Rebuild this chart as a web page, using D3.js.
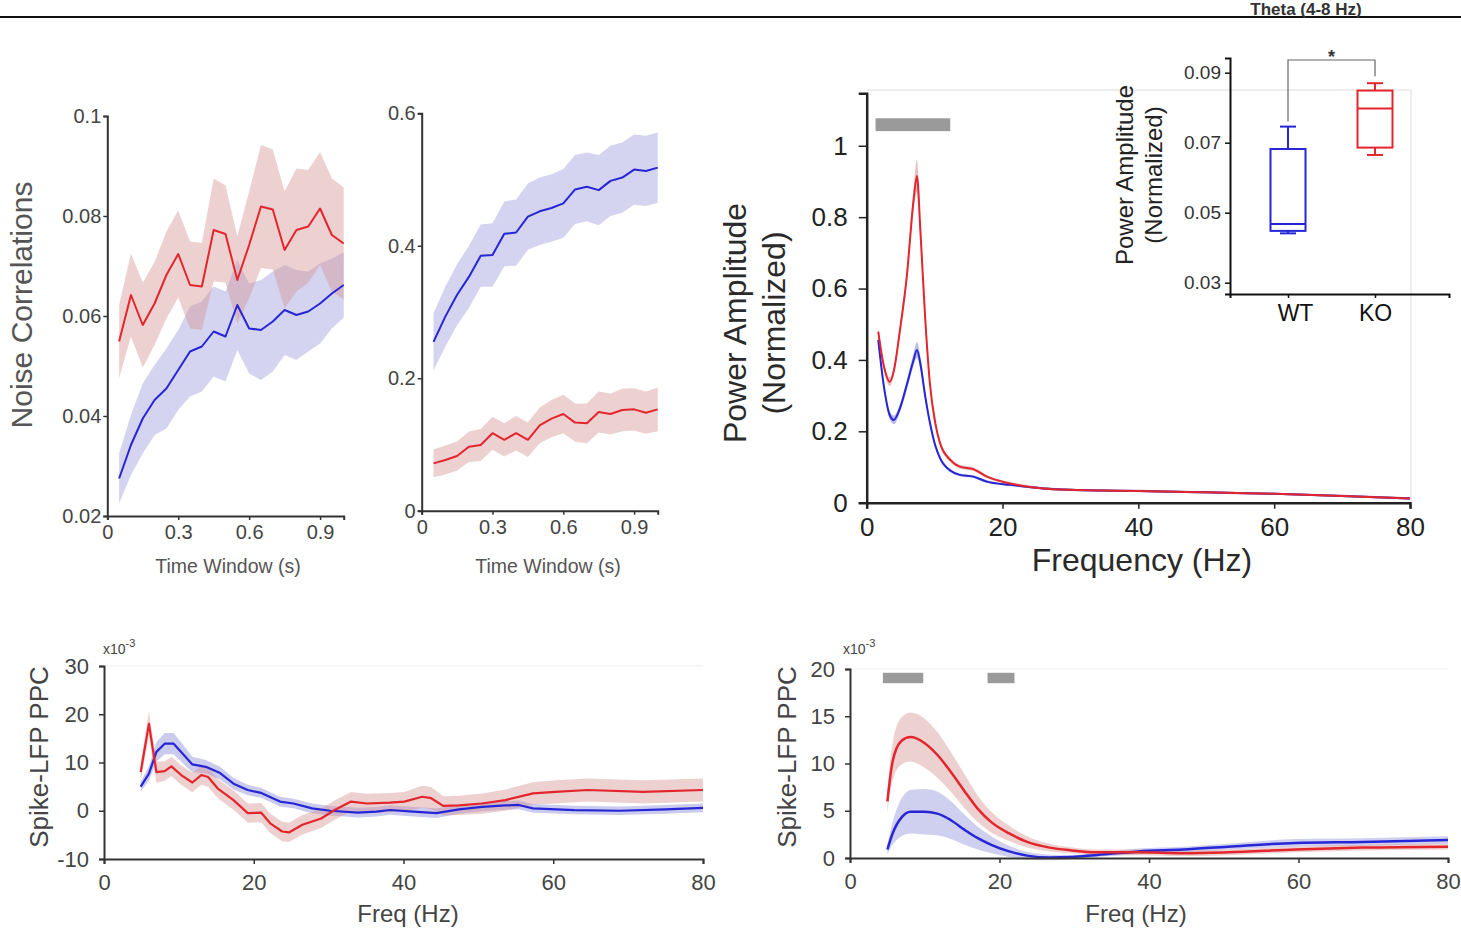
<!DOCTYPE html>
<html><head><meta charset="utf-8">
<script src="https://cdn.jsdelivr.net/npm/d3@7"></script>
<style>body{margin:0;background:#fff} svg{display:block}</style>
</head><body><svg id="c" width="1461" height="937"></svg>
<script>
// ---------- DATA ----------
const ncTime = [0.05,0.10,0.15,0.20,0.25,0.30,0.35,0.40,0.45,0.50,0.55,0.60,0.65,0.70,0.75,0.80,0.85,0.90,0.95,1.00];
const ncKO = [0.0549,0.0642,0.0582,0.0625,0.0682,0.0724,0.0662,0.0659,0.0772,0.0764,0.0672,0.0742,0.0819,0.0813,0.0732,0.0772,0.0779,0.0815,0.0762,0.0745];
const ncKOsem = [0.0073,0.0083,0.0085,0.0083,0.0087,0.0087,0.0087,0.0087,0.0103,0.0097,0.0087,0.0107,0.0123,0.0120,0.0117,0.0123,0.0113,0.0113,0.0113,0.0112];
const ncWT = [0.0275,0.0342,0.0395,0.0432,0.0455,0.0492,0.0529,0.0539,0.0569,0.0559,0.0622,0.0575,0.0572,0.0589,0.0612,0.0602,0.0609,0.0625,0.0645,0.0662];
const ncWTsem = [0.005,0.006,0.007,0.007,0.008,0.008,0.009,0.009,0.009,0.009,0.009,0.009,0.010,0.010,0.009,0.009,0.008,0.008,0.007,0.0065];
const ncYTicks = [0.02,0.04,0.06,0.08,0.1];
const ncYLabels = ["0.02","0.04","0.06","0.08","0.1"];
const timeTicks = [0,0.3,0.6,0.9];
const timeLabels = ["0","0.3","0.6","0.9"];

const scWT = [0.255,0.293,0.326,0.353,0.385,0.386,0.418,0.420,0.444,0.452,0.457,0.464,0.485,0.489,0.484,0.498,0.503,0.515,0.513,0.518];
const scWTsem = [0.043,0.045,0.046,0.047,0.047,0.048,0.049,0.050,0.050,0.051,0.051,0.052,0.052,0.052,0.053,0.053,0.053,0.053,0.053,0.053];
const scKO = [0.0715,0.0765,0.0826,0.0966,0.0992,0.117,0.107,0.117,0.107,0.129,0.139,0.146,0.133,0.132,0.149,0.146,0.152,0.153,0.148,0.153];
const scKOsem = [0.021,0.022,0.022,0.023,0.024,0.025,0.025,0.026,0.026,0.027,0.028,0.029,0.029,0.030,0.031,0.031,0.032,0.032,0.032,0.033];
const scYTicks = [0,0.2,0.4,0.6];
const scYLabels = ["0","0.2","0.4","0.6"];

const psdFreq = [1.7,2.5,3.4,4.0,4.9,5.9,6.9,7.4,7.9,8.6,9.3,10.1,10.8,12.3,13.7,15.7,17.7,21.1,26,30,35,40,50,60,70,80];
const psdKO = [0.479,0.385,0.339,0.37,0.484,0.633,0.848,0.915,0.764,0.521,0.335,0.223,0.167,0.120,0.101,0.094,0.073,0.054,0.040,0.036,0.034,0.033,0.029,0.025,0.019,0.012];
const psdKOsem = [0.012,0.012,0.012,0.013,0.015,0.02,0.03,0.045,0.03,0.02,0.015,0.01,0.008,0.006,0.005,0.005,0.004,0.004,0.003,0.003,0.003,0.003,0.003,0.003,0.003,0.003];
const psdWT = [0.456,0.33,0.245,0.232,0.265,0.33,0.40,0.428,0.39,0.30,0.225,0.16,0.125,0.090,0.078,0.073,0.059,0.050,0.040,0.036,0.034,0.033,0.029,0.025,0.019,0.012];
const psdWTsem = [0.012,0.012,0.012,0.012,0.012,0.014,0.018,0.022,0.018,0.014,0.01,0.008,0.006,0.005,0.004,0.004,0.004,0.003,0.003,0.003,0.003,0.003,0.003,0.003,0.003,0.003];
const psdYTicks = [0,0.2,0.4,0.6,0.8,1];
const psdYLabels = ["0","0.2","0.4","0.6","0.8","1"];
const freqTicks = [0,20,40,60,80];
const psdSigBands = [[1.3,12.3]];
const psdSigLevel = [1.041,1.077];

const boxGroups = ["WT","KO"];
const boxMin = [0.0441,0.0665];
const boxQ1 = [0.0448,0.0686];
const boxMedian = [0.0468,0.0798];
const boxQ3 = [0.0682,0.0849];
const boxMax = [0.0746,0.0870];
const boxYTicks = [0.03,0.05,0.07,0.09];
const boxYLabels = ["0.03","0.05","0.07","0.09"];

const ppc1KOFreq = [4.9,6.0,7.0,8.1,9.0,10.3,11.8,13.0,13.9,15.2,17.3,19.2,21.0,22.2,23.8,24.7,26.5,29.0,30.8,33.0,35.1,38.2,40.1,42.5,43.7,45.3,47.4,50.5,53.6,57.3,60.3,64.6,72.0,80.0];
const ppc1KO = [8.0,18.0,8.0,8.2,9.2,7.4,5.85,7.4,7.0,4.6,2.2,-0.5,-0.4,-2.6,-4.3,-4.5,-2.9,-1.6,0.15,1.9,1.5,1.7,1.9,2.9,2.6,1.0,1.1,1.5,2.2,3.6,3.9,4.3,3.9,4.3];
const ppc1KOsem = [2.0,2.5,2.2,2.0,2.0,2.0,2.0,2.0,2.0,2.0,2.0,2.0,2.0,2.0,2.0,2.0,2.0,2.0,2.0,2.0,2.0,2.0,2.0,2.3,2.3,2.0,2.0,2.1,2.2,2.3,2.4,2.4,2.4,2.4];
const ppc1WTFreq = [4.9,6.0,7.0,8.1,9.3,10.3,11.8,13.6,15.5,17.3,19.2,21.0,23.5,25.3,27.8,30.2,33.9,36.4,38.2,41.3,44.4,47.4,50.5,53.6,55.4,57.3,62.8,68.9,75.0,80.0];
const ppc1WT = [5.0,7.7,12.2,13.9,13.9,12.2,9.6,9.1,7.8,5.6,4.3,3.7,1.9,1.5,0.5,0.0,-0.4,-0.2,0.15,-0.2,-0.5,0.3,0.8,1.1,1.2,0.5,0.15,0.0,0.3,0.6];
const ppc1WTsem = [1.0,1.5,2.0,2.2,2.2,2.0,1.6,1.4,1.3,1.2,1.1,1.0,1.0,1.0,1.0,1.0,1.0,1.0,1.0,1.0,1.0,0.9,0.9,0.9,0.9,0.9,0.9,0.9,0.9,0.9];
const ppc1YTicks = [-10,0,10,20,30];
const ppc1YLabels = ["-10","0","10","20","30"];

const ppc2Freq = [5.0,5.7,6.9,8.1,9.9,11.7,13.5,15.3,17.1,18.9,21.3,23.7,26.7,29.7,32.7,38.6,44.6,50.6,59.6,68.6,80.0];
const ppc2KO = [6.0,10.2,12.4,12.8,12.2,10.9,9.1,7.1,5.2,3.8,2.6,1.7,1.1,0.8,0.6,0.6,0.5,0.6,0.9,1.1,1.2];
const ppc2KOsem = [1.2,2.0,2.5,2.6,2.6,2.4,2.1,1.8,1.4,1.1,0.8,0.6,0.4,0.3,0.3,0.3,0.3,0.3,0.3,0.3,0.3];
const ppc2WT = [0.9,2.6,4.3,4.9,4.9,4.7,4.0,3.0,2.1,1.4,0.7,0.25,0.05,0.1,0.3,0.7,0.9,1.2,1.6,1.7,1.9];
const ppc2WTsem = [0.5,1.2,2.0,2.3,2.4,2.3,2.0,1.6,1.2,0.9,0.6,0.4,0.3,0.2,0.2,0.3,0.3,0.3,0.4,0.4,0.4];
const ppc2YTicks = [0,5,10,15,20];
const ppc2SigBands = [[4.4,9.8],[18.4,22.0]];
const ppc2SigLevel = [18.5,19.6];

// ---------- DRAWING ----------
const FONT = "'Liberation Sans', Arial, Helvetica, sans-serif";
const RED = "#e3262d", BLUE = "#2626d6";
const REDBAND = "rgb(214,150,150)", BLUEBAND = "rgb(160,160,224)";
const svg = d3.select("#c");

function styleAxis(g, o) {
  g.select(".domain").attr("stroke", o.axisColor || "#333").attr("stroke-width", o.axisWidth || 2);
  g.selectAll(".tick line").attr("stroke", o.axisColor || "#333").attr("stroke-width", o.tickWidth || 1.5);
  g.selectAll(".tick text").attr("fill", o.textColor || "#444").attr("font-size", o.fontSize).attr("font-family", FONT);
}
function band(g, x, y, xs, ys, sems, fill, op, curve) {
  const data = xs.map((v, i) => ({x: v, y: ys[i], s: sems[i]}));
  g.append("path").datum(data)
    .attr("d", d3.area().x(d => x(d.x)).y0(d => y(d.y - d.s)).y1(d => y(d.y + d.s)).curve(curve))
    .attr("fill", fill).attr("opacity", op);
}
function line(g, x, y, xs, ys, color, lw, curve) {
  const data = xs.map((v, i) => ({x: v, y: ys[i]}));
  g.append("path").datum(data)
    .attr("d", d3.line().x(d => x(d.x)).y(d => y(d.y)).curve(curve))
    .attr("fill", "none").attr("stroke", color).attr("stroke-width", lw).attr("stroke-linejoin", "round");
}
function label(txt, x, y, size, color, rot, weight) {
  const t = svg.append("text").attr("font-family", FONT).attr("font-size", size).attr("fill", color)
    .attr("text-anchor", "middle").attr("dominant-baseline", "central").text(txt);
  if (weight) t.attr("font-weight", weight);
  t.attr("transform", `translate(${x},${y})` + (rot ? ` rotate(${rot})` : ""));
  return t;
}

// top rule and title
svg.append("line").attr("x1", 0).attr("x2", 1461).attr("y1", 17).attr("y2", 17).attr("stroke", "#111").attr("stroke-width", 2);
svg.append("text").attr("x", 1306).attr("y", 15).attr("text-anchor", "middle").attr("font-family", FONT)
  .attr("font-size", 17).attr("font-weight", "bold").attr("fill", "#333").text("Theta (4-8 Hz)");

// ---- Panel 1: Noise correlations ----
{
  const x = d3.scaleLinear().domain([0, 1]).range([107.3, 343.7]);
  const y = d3.scaleLinear().domain([0.02, 0.1]).range([516, 116]);
  const g = svg.append("g");
  band(g, x, y, ncTime, ncWT, ncWTsem, BLUEBAND, 0.45, d3.curveLinear);
  band(g, x, y, ncTime, ncKO, ncKOsem, REDBAND, 0.45, d3.curveLinear);
  line(g, x, y, ncTime, ncWT, BLUE, 2, d3.curveLinear);
  line(g, x, y, ncTime, ncKO, RED, 2, d3.curveLinear);
  const ax = svg.append("g").attr("transform", "translate(0,516)")
    .call(d3.axisBottom(x).tickValues(timeTicks).tickFormat((d, i) => timeLabels[i]).tickSizeOuter(0).tickSize(4).tickPadding(5));
  styleAxis(ax, {fontSize: 20, textColor: "#444"});
  const ay = svg.append("g").attr("transform", "translate(107.3,0)")
    .call(d3.axisLeft(y).tickValues(ncYTicks).tickFormat((d, i) => ncYLabels[i]).tickSizeOuter(0).tickSize(4).tickPadding(2));
  styleAxis(ay, {fontSize: 20, textColor: "#444"});
  label("Noise Correlations", 21, 305, 30, "#555", -90);
  label("Time Window (s)", 228, 566, 19.5, "#555");
}

// ---- Panel 2 ----
{
  const x = d3.scaleLinear().domain([0, 1]).range([421.7, 657.7]);
  const y = d3.scaleLinear().domain([0, 0.6]).range([510.7, 113.3]);
  const g = svg.append("g");
  band(g, x, y, ncTime, scWT, scWTsem, BLUEBAND, 0.45, d3.curveLinear);
  band(g, x, y, ncTime, scKO, scKOsem, REDBAND, 0.45, d3.curveLinear);
  line(g, x, y, ncTime, scWT, BLUE, 2, d3.curveLinear);
  line(g, x, y, ncTime, scKO, RED, 2, d3.curveLinear);
  const ax = svg.append("g").attr("transform", "translate(0,510.7)")
    .call(d3.axisBottom(x).tickValues(timeTicks).tickFormat((d, i) => timeLabels[i]).tickSizeOuter(0).tickSize(4).tickPadding(5));
  styleAxis(ax, {fontSize: 20, textColor: "#444"});
  const ay = svg.append("g").attr("transform", "translate(421.7,0)")
    .call(d3.axisLeft(y).tickValues(scYTicks).tickFormat((d, i) => scYLabels[i]).tickSizeOuter(0).tickSize(4).tickPadding(2));
  styleAxis(ay, {fontSize: 20, textColor: "#444"});
  label("Time Window (s)", 548, 566, 19.5, "#555");
}

// ---- Panel 3: Power spectrum ----
{
  const x = d3.scaleLinear().domain([0, 80]).range([866.7, 1410]);
  const y = d3.scaleLinear().domain([0, 1.147]).range([502.7, 93.3]);
  const g = svg.append("g");
  g.append("path").attr("d", `M${x(0)},90 H1411 V${y(0)}`).attr("fill", "none").attr("stroke", "#dcdcdc").attr("stroke-width", 1);
  g.selectAll("rect.sig").data(psdSigBands).enter().append("rect")
    .attr("x", d => x(d[0])).attr("width", d => x(d[1]) - x(d[0]))
    .attr("y", y(psdSigLevel[1])).attr("height", y(psdSigLevel[0]) - y(psdSigLevel[1])).attr("fill", "#9a9a9a");
  band(g, x, y, psdFreq, psdWT, psdWTsem, BLUEBAND, 0.7, d3.curveMonotoneX);
  band(g, x, y, psdFreq, psdKO, psdKOsem, REDBAND, 0.6, d3.curveMonotoneX);
  line(g, x, y, psdFreq, psdWT, BLUE, 2, d3.curveMonotoneX);
  line(g, x, y, psdFreq, psdKO, RED, 2, d3.curveMonotoneX);
  const ax = svg.append("g").attr("transform", `translate(0,${y(0)})`)
    .call(d3.axisBottom(x).tickValues(freqTicks).tickFormat(d => String(d)).tickSizeOuter(0).tickSize(6).tickPadding(9));
  styleAxis(ax, {fontSize: 26, textColor: "#222", axisColor: "#222", axisWidth: 2.5});
  const ay = svg.append("g").attr("transform", `translate(${x(0)},0)`)
    .call(d3.axisLeft(y).tickValues(psdYTicks).tickFormat((d, i) => psdYLabels[i]).tickSizeOuter(0).tickSize(8).tickPadding(11));
  styleAxis(ay, {fontSize: 26, textColor: "#222", axisColor: "#222", axisWidth: 2.5});
  label("Power Amplitude", 735, 323, 32, "#2a2a2a", -90);
  label("(Normalized)", 774, 323, 32, "#2a2a2a", -90);
  label("Frequency (Hz)", 1142, 560, 32, "#2a2a2a");
}

// ---- Inset: box plot ----
{
  const x = d3.scalePoint().domain(boxGroups).range([1230, 1449]).padding(0.7586).align(0.4394);
  const y = d3.scaleLinear().domain([0.02677, 0.0942]).range([294, 58]);
  const colors = [BLUE, RED];
  const g = svg.append("g");
  const bw = 35, cw = 16;
  boxGroups.forEach((grp, i) => {
    const cx = x(grp), c = colors[i];
    const bg = g.append("g").attr("stroke", c).attr("stroke-width", 2).attr("fill", "none");
    bg.append("line").attr("x1", cx).attr("x2", cx).attr("y1", y(boxMax[i])).attr("y2", y(boxQ3[i]));
    bg.append("line").attr("x1", cx).attr("x2", cx).attr("y1", y(boxQ1[i])).attr("y2", y(boxMin[i]));
    bg.append("line").attr("x1", cx - cw / 2).attr("x2", cx + cw / 2).attr("y1", y(boxMax[i])).attr("y2", y(boxMax[i]));
    bg.append("line").attr("x1", cx - cw / 2).attr("x2", cx + cw / 2).attr("y1", y(boxMin[i])).attr("y2", y(boxMin[i]));
    bg.append("rect").attr("x", cx - bw / 2).attr("width", bw).attr("y", y(boxQ3[i])).attr("height", y(boxQ1[i]) - y(boxQ3[i])).attr("fill", "#fff");
    bg.append("line").attr("x1", cx - bw / 2).attr("x2", cx + bw / 2).attr("y1", y(boxMedian[i])).attr("y2", y(boxMedian[i]));
  });
  const bx1 = x("WT"), bx2 = x("KO");
  g.append("path").attr("d", `M${bx1},${y(boxMax[0]) - 5} V60 H${bx2} V${y(boxMax[1]) - 7}`)
    .attr("fill", "none").attr("stroke", "#666").attr("stroke-width", 1.2);
  g.append("text").attr("x", (bx1 + bx2) / 2).attr("y", 63).attr("text-anchor", "middle")
    .attr("font-family", FONT).attr("font-size", 18).attr("font-weight", "bold").attr("fill", "#333").text("*");
  const ax = svg.append("g").attr("transform", "translate(0,294)")
    .call(d3.axisBottom(x).tickSizeOuter(0).tickSize(4).tickPadding(7));
  styleAxis(ax, {fontSize: 23, textColor: "#111", axisColor: "#111"});
  ax.selectAll(".tick text").attr("dx", (d, i) => i === 0 ? 7 : 0);
  const ay = svg.append("g").attr("transform", "translate(1230,0)")
    .call(d3.axisLeft(y).tickValues(boxYTicks).tickFormat((d, i) => boxYLabels[i]).tickSizeOuter(0).tickSize(5).tickPadding(4));
  styleAxis(ay, {fontSize: 19, textColor: "#333", axisColor: "#111"});
  label("Power Amplitude", 1124, 175, 24, "#222", -90);
  label("(Normalized)", 1153, 175, 24, "#222", -90);
}

// ---- Bottom-left PPC ----
{
  const x = d3.scaleLinear().domain([0, 80]).range([104, 703]);
  const y = d3.scaleLinear().domain([-10, 30]).range([859, 666]);
  const g = svg.append("g");
  g.append("line").attr("x1", 104).attr("x2", 703).attr("y1", 666).attr("y2", 666).attr("stroke", "#f0f0f0");
  band(g, x, y, ppc1WTFreq, ppc1WT, ppc1WTsem, BLUEBAND, 0.55, d3.curveLinear);
  band(g, x, y, ppc1KOFreq, ppc1KO, ppc1KOsem, REDBAND, 0.45, d3.curveLinear);
  line(g, x, y, ppc1WTFreq, ppc1WT, BLUE, 2.2, d3.curveLinear);
  line(g, x, y, ppc1KOFreq, ppc1KO, RED, 2.2, d3.curveLinear);
  const ax = svg.append("g").attr("transform", "translate(0,859)")
    .call(d3.axisBottom(x).tickValues(freqTicks).tickFormat(d => String(d)).tickSizeOuter(0).tickSize(5).tickPadding(10));
  styleAxis(ax, {fontSize: 22, textColor: "#444"});
  const ay = svg.append("g").attr("transform", "translate(104,0)")
    .call(d3.axisLeft(y).tickValues(ppc1YTicks).tickFormat((d, i) => ppc1YLabels[i]).tickSizeOuter(0).tickSize(5).tickPadding(10));
  styleAxis(ay, {fontSize: 22, textColor: "#444"});
  label("Spike-LFP PPC", 39, 757, 26, "#444", -90);
  label("Freq (Hz)", 408, 913, 24, "#444");
  const t = svg.append("text").attr("x", 103).attr("y", 654).attr("font-family", FONT).attr("font-size", 14).attr("fill", "#444").text("x10");
  t.append("tspan").attr("dy", -7).attr("font-size", 11).text("-3");
}

// ---- Bottom-right PPC ----
{
  const x = d3.scaleLinear().domain([0, 80]).range([850, 1448]);
  const y = d3.scaleLinear().domain([0, 20]).range([858, 669]);
  const g = svg.append("g");
  g.append("line").attr("x1", 850).attr("x2", 1448).attr("y1", 669).attr("y2", 669).attr("stroke", "#f0f0f0");
  g.selectAll("rect.sig").data(ppc2SigBands).enter().append("rect")
    .attr("x", d => x(d[0])).attr("width", d => x(d[1]) - x(d[0]))
    .attr("y", y(ppc2SigLevel[1])).attr("height", y(ppc2SigLevel[0]) - y(ppc2SigLevel[1])).attr("fill", "#9a9a9a");
  band(g, x, y, ppc2Freq, ppc2WT, ppc2WTsem, BLUEBAND, 0.5, d3.curveMonotoneX);
  band(g, x, y, ppc2Freq, ppc2KO, ppc2KOsem, REDBAND, 0.45, d3.curveMonotoneX);
  line(g, x, y, ppc2Freq, ppc2WT, BLUE, 2.5, d3.curveMonotoneX);
  line(g, x, y, ppc2Freq, ppc2KO, RED, 2.5, d3.curveMonotoneX);
  const ax = svg.append("g").attr("transform", "translate(0,858)")
    .call(d3.axisBottom(x).tickValues(freqTicks).tickFormat(d => String(d)).tickSizeOuter(0).tickSize(5).tickPadding(10));
  styleAxis(ax, {fontSize: 22, textColor: "#444"});
  const ay = svg.append("g").attr("transform", "translate(850,0)")
    .call(d3.axisLeft(y).tickValues(ppc2YTicks).tickFormat(d => String(d)).tickSizeOuter(0).tickSize(5).tickPadding(10));
  styleAxis(ay, {fontSize: 22, textColor: "#444"});
  label("Spike-LFP PPC", 787, 757, 26, "#444", -90);
  label("Freq (Hz)", 1136, 913, 24, "#444");
  const t = svg.append("text").attr("x", 843).attr("y", 654).attr("font-family", FONT).attr("font-size", 14).attr("fill", "#444").text("x10");
  t.append("tspan").attr("dy", -7).attr("font-size", 11).text("-3");
}
</script>
</body></html>
